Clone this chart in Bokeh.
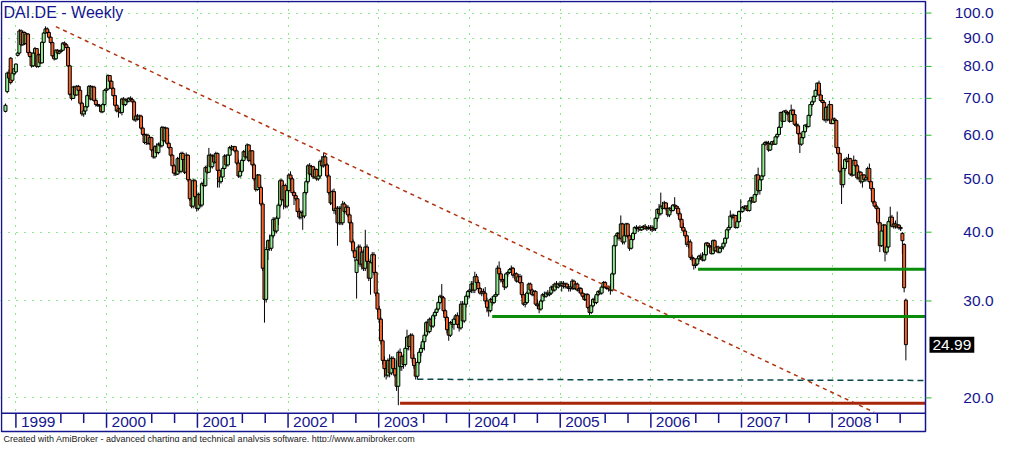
import math
import pandas as pd
from bokeh.plotting import figure
from bokeh.models import ColumnDataSource, Range1d, FixedTicker, Grid, Label
from bokeh.embed import file_html
from bokeh.resources import INLINE
from bokeh.core.properties import value

# ---------------- data (weekly bars, DAI.DE) ----------------
FIRST_WEEK = "1998-11-20"

opens = [
    # 1998
    66.3, 72.0, 77.8, 82.8, 75.5, 77.6,
    # 1999
    78.2, 83.8, 84.6, 92.8, 87.6, 92.2, 88.0, 91.6, 84.8, 83.4,
    80.2, 84.6, 86.2, 80.0, 84.0, 81.2, 88.5, 92.0, 93.6, 92.2,
    90.4, 88.4, 83.6, 82.6, 85.6, 84.6, 85.2, 85.6, 88.2, 87.6,
    86.6, 80.2, 71.2, 70.0, 73.4, 71.0, 73.6, 72.4, 68.6, 65.6,
    66.4, 67.6, 70.8, 73.6, 69.8, 73.4, 69.4, 68.2, 68.0, 67.8,
    66.2, 68.2, 72.4,
    # 2000
    72.8, 77.0, 75.2, 73.0, 70.8, 68.0, 66.4, 67.0, 66.0, 69.8,
    68.2, 69.6, 69.2, 70.0, 69.6, 69.0, 64.0, 65.0, 64.2, 65.0,
    61.8, 60.2, 58.2, 60.0, 58.0, 59.4, 56.4, 54.8, 57.2, 55.8,
    57.8, 57.4, 62.0, 58.6, 61.8, 58.0, 57.0, 55.2, 52.8, 51.2,
    51.0, 54.4, 51.6, 55.6, 54.2, 51.4, 55.2, 49.8, 46.0, 44.6,
    49.6, 46.4,
    # 2001
    44.2, 46.8, 44.8, 49.0, 48.6, 52.4, 51.4, 55.2, 52.6, 55.0,
    53.6, 55.6, 51.8, 49.4, 50.4, 52.2, 55.0, 53.0, 55.2, 57.0,
    56.6, 57.2, 56.2, 53.4, 50.6, 51.6, 54.0, 56.0, 54.8, 57.6,
    54.0, 56.2, 53.0, 50.0, 47.8, 50.8, 48.2, 45.0, 34.4, 30.2,
    37.2, 38.6, 37.4, 39.4, 42.2, 40.2, 42.4, 44.8, 49.6, 45.8,
    48.6, 44.6,
    # 2002
    47.6, 50.8, 50.0, 47.2, 46.6, 46.0, 43.6, 42.6, 43.4, 42.8,
    47.2, 49.4, 52.8, 51.0, 52.6, 50.4, 52.0, 50.0, 50.6, 53.8,
    52.8, 54.8, 53.0, 50.6, 47.2, 45.2, 47.4, 43.8, 44.2, 41.6,
    44.2, 41.6, 45.0, 43.6, 44.4, 43.0, 41.6, 38.4, 37.0, 33.8,
    35.6, 37.6, 35.0, 36.8, 34.4, 37.6, 35.4, 33.0, 35.2, 36.4,
    33.8, 31.0,
    # 2003
    29.0, 27.8, 25.4, 23.4, 22.6, 22.0, 23.4, 22.2, 23.6, 22.6,
    22.0, 21.0, 24.2, 22.8, 23.8, 23.0, 24.6, 25.8, 24.8, 26.0,
    23.6, 22.9, 21.9, 23.2, 24.2, 24.6, 25.3, 26.0, 27.4, 26.4,
    27.8, 27.0, 28.2, 28.6, 29.0, 29.8, 30.6, 30.4, 28.8, 28.0,
    26.6, 26.0, 27.4, 27.2, 27.8, 28.2, 27.2, 26.8, 29.6, 27.6,
    29.6, 30.6,
    # 2004
    31.2, 31.4, 32.2, 31.4, 33.2, 32.4, 31.6, 31.0, 31.2, 31.0,
    30.0, 29.2, 28.8, 30.2, 29.8, 30.6, 30.8, 34.4, 33.6, 32.8,
    32.6, 31.8, 33.6, 33.8, 34.2, 34.4, 33.4, 33.6, 32.6, 33.2,
    32.4, 30.8, 29.6, 29.8, 31.0, 32.2, 31.4, 30.8, 31.2, 29.6,
    29.4, 29.0, 30.0, 30.8, 30.6, 31.0, 30.8, 31.0, 31.8, 31.4,
    32.2, 31.8, 32.2,
    # 2005
    32.0, 32.3, 31.9, 32.2, 31.8, 31.6, 31.8, 32.6, 31.6, 32.2,
    31.4, 31.6, 31.0, 30.6, 30.2, 30.8, 29.2, 28.6, 29.4, 30.2,
    29.8, 30.8, 31.2, 31.0, 31.8, 32.4, 31.8, 31.6, 31.8, 31.4,
    33.6, 37.8, 39.4, 39.8, 39.0, 41.4, 38.4, 39.4, 41.4, 39.4,
    37.4, 38.8, 39.8, 40.8, 40.6, 40.8, 40.4, 40.8, 41.0, 40.6,
    40.8, 40.6,
    # 2006
    40.8, 40.4, 40.6, 42.4, 44.0, 43.2, 44.6, 44.2, 45.2, 44.2,
    43.0, 44.2, 43.8, 44.8, 44.6, 44.2, 43.2, 42.2, 40.8, 40.2,
    39.4, 38.0, 38.4, 36.0, 35.8, 34.8, 35.0, 35.8, 36.2, 36.0,
    35.6, 36.4, 38.2, 37.8, 37.6, 36.6, 38.6, 37.0, 37.6, 36.8,
    37.4, 37.6, 38.2, 39.0, 40.4, 40.8, 42.8, 42.6, 42.9, 40.8,
    41.8, 43.6,
    # 2007
    43.6, 44.4, 44.2, 44.6, 43.8, 45.6, 46.2, 45.4, 46.8, 50.8,
    47.6, 49.8, 50.6, 57.8, 58.2, 58.0, 56.4, 57.8, 58.4, 57.8,
    59.6, 60.2, 62.0, 66.0, 63.6, 66.4, 66.0, 65.6, 63.6, 66.6,
    65.4, 62.8, 62.4, 60.4, 57.8, 59.4, 60.9, 62.6, 62.2, 65.2,
    68.2, 69.0, 70.6, 72.4, 74.6, 71.0, 69.4, 68.8, 64.0, 67.4,
    64.0, 68.2,
    # 2008
    63.0, 64.2, 63.8, 57.0, 55.6, 51.6, 48.8, 52.2, 54.2, 53.8,
    54.4, 51.0, 50.8, 54.0, 52.8, 50.2, 51.4, 49.4, 50.8, 49.8,
    50.2, 52.2, 49.4, 48.0, 45.4, 44.6, 44.2, 41.6, 37.8, 40.2,
    41.2, 36.8, 37.6, 41.8, 42.6, 41.0, 41.4, 40.9, 41.2, 40.8,
    39.8, 38.0, 30.1,
]

highs = [
    # 1998
    68.5, 78.3, 79.0, 83.2, 78.4, 79.5,
    # 1999
    81.0, 85.0, 93.5, 93.4, 93.0, 92.6, 92.0, 92.0, 85.5, 84.0,
    85.0, 86.8, 86.4, 84.5, 84.6, 88.8, 92.4, 94.6, 94.2, 93.0,
    90.8, 88.8, 84.5, 86.0, 86.0, 85.6, 86.0, 88.6, 88.8, 88.2,
    87.0, 80.6, 71.6, 73.8, 73.8, 74.0, 74.0, 73.6, 69.0, 67.0,
    68.0, 71.2, 74.0, 74.0, 73.8, 73.8, 69.8, 68.6, 68.4, 68.0,
    68.6, 72.8, 73.2,
    # 2000
    77.4, 77.2, 75.6, 73.4, 71.0, 68.4, 67.4, 67.6, 70.2, 70.4,
    70.0, 70.2, 70.4, 70.6, 70.2, 69.4, 65.4, 65.6, 65.4, 65.4,
    62.2, 60.6, 60.4, 60.4, 59.8, 59.6, 57.0, 57.6, 58.0, 58.2,
    58.4, 62.4, 62.2, 62.2, 62.0, 58.4, 57.2, 55.4, 53.2, 51.6,
    54.8, 54.8, 56.0, 56.0, 54.6, 55.8, 55.4, 50.2, 48.6, 50.0,
    50.0, 47.6,
    # 2001
    47.2, 47.2, 49.4, 50.0, 52.8, 53.0, 56.9, 55.6, 55.4, 55.4,
    56.0, 55.8, 52.0, 50.8, 52.6, 55.4, 55.4, 55.4, 57.4, 57.6,
    57.4, 57.4, 56.6, 54.2, 52.0, 54.4, 56.4, 56.6, 58.0, 57.8,
    56.4, 56.4, 53.4, 50.4, 51.0, 51.0, 48.6, 45.4, 35.0, 37.6,
    38.8, 39.6, 39.8, 42.6, 42.6, 42.8, 45.2, 50.0, 50.0, 49.0,
    49.0, 48.0,
    # 2002
    51.2, 51.6, 50.4, 47.6, 47.2, 46.2, 44.2, 43.8, 43.8, 47.6,
    49.8, 53.2, 53.4, 53.0, 52.8, 52.4, 52.2, 51.0, 54.2, 55.0,
    55.8, 55.2, 53.4, 51.0, 47.6, 47.8, 48.0, 44.6, 44.6, 44.6,
    44.6, 45.6, 45.4, 44.8, 44.8, 43.4, 42.0, 38.8, 37.4, 35.8,
    38.0, 38.0, 37.2, 37.2, 40.4, 38.0, 35.8, 35.6, 36.8, 36.8,
    34.0, 31.2,
    # 2003
    29.4, 28.0, 25.6, 23.8, 23.0, 23.6, 24.0, 23.8, 23.8, 23.6,
    23.4, 24.4, 24.6, 24.0, 24.0, 24.8, 26.6, 26.0, 26.2, 26.2,
    24.0, 23.2, 23.4, 24.4, 25.0, 25.6, 26.3, 27.6, 27.8, 28.0,
    28.0, 28.4, 28.8, 29.2, 30.0, 30.8, 32.2, 30.6, 29.0, 28.2,
    27.4, 27.6, 27.8, 28.0, 28.4, 28.6, 27.6, 30.0, 30.0, 29.8,
    30.8, 31.4,
    # 2004
    31.6, 32.6, 32.6, 33.9, 33.6, 32.8, 31.8, 31.6, 31.6, 31.8,
    30.4, 29.6, 30.4, 30.6, 30.8, 31.2, 34.8, 35.4, 34.0, 33.4,
    33.0, 33.8, 34.0, 34.4, 34.8, 34.6, 33.8, 33.8, 33.6, 33.6,
    33.4, 31.2, 30.2, 31.2, 32.4, 32.4, 31.6, 31.4, 31.4, 30.2,
    29.8, 30.2, 31.0, 31.2, 31.2, 31.4, 31.2, 32.0, 32.2, 32.4,
    32.6, 32.4, 32.6,
    # 2005
    32.6, 32.6, 32.4, 32.4, 32.2, 32.0, 32.9, 32.8, 32.4, 32.4,
    31.8, 31.8, 31.4, 31.0, 31.0, 31.0, 29.4, 29.6, 30.4, 30.6,
    31.0, 31.4, 31.6, 32.0, 32.6, 32.6, 32.0, 32.0, 32.2, 33.8,
    38.0, 39.6, 40.0, 40.0, 42.9, 41.6, 39.6, 41.6, 41.6, 39.8,
    39.0, 40.0, 41.0, 41.2, 41.0, 41.2, 41.0, 41.2, 41.4, 41.0,
    41.2, 41.2,
    # 2006
    41.2, 41.0, 42.6, 44.2, 45.0, 47.2, 45.4, 45.6, 45.4, 44.4,
    44.4, 44.6, 45.0, 46.3, 44.8, 44.6, 43.6, 42.4, 41.6, 40.6,
    39.6, 38.8, 38.8, 36.4, 36.0, 35.2, 36.0, 36.4, 36.6, 36.8,
    36.6, 38.4, 38.4, 38.2, 37.8, 38.8, 38.8, 37.8, 37.8, 37.6,
    37.8, 38.4, 39.2, 40.6, 41.2, 43.8, 43.2, 43.2, 43.0, 42.2,
    43.8, 45.9,
    # 2007
    44.6, 44.8, 44.8, 44.8, 45.8, 46.4, 46.4, 47.0, 51.0, 52.4,
    50.4, 50.8, 58.0, 58.6, 58.6, 58.6, 58.2, 58.6, 58.8, 60.0,
    60.6, 62.4, 66.2, 66.4, 66.6, 66.8, 66.4, 66.0, 68.2, 67.0,
    66.8, 63.6, 63.0, 60.8, 59.6, 61.2, 62.8, 63.0, 65.4, 68.4,
    69.4, 70.8, 72.6, 74.8, 75.4, 72.6, 71.0, 69.4, 67.8, 67.8,
    69.3, 68.4,
    # 2008
    64.6, 64.6, 64.0, 57.2, 55.8, 53.0, 52.6, 54.6, 54.8, 55.5,
    54.6, 51.6, 55.1, 54.2, 53.2, 51.8, 51.6, 51.0, 51.0, 50.4,
    52.6, 53.3, 49.6, 48.2, 45.8, 45.0, 44.4, 41.8, 40.4, 41.4,
    41.4, 38.6, 42.2, 44.5, 43.0, 41.8, 42.0, 43.6, 41.4, 41.0,
    40.0, 38.2, 30.3,
]

lows = [
    # 1998
    66.0, 71.5, 75.5, 74.2, 75.0, 77.0,
    # 1999
    77.8, 83.4, 84.2, 87.0, 87.2, 87.5, 87.6, 84.0, 83.0, 79.6,
    79.8, 84.2, 79.5, 79.6, 80.8, 81.0, 88.0, 91.8, 91.8, 90.0,
    87.8, 83.0, 82.0, 82.2, 84.0, 84.2, 84.8, 85.4, 87.2, 86.0,
    79.8, 70.8, 69.4, 69.8, 70.6, 70.8, 71.8, 68.0, 65.0, 64.8,
    65.4, 67.2, 70.4, 69.4, 69.4, 69.0, 67.6, 67.6, 67.4, 65.8,
    65.8, 67.8, 71.6,
    # 2000
    72.4, 74.6, 72.6, 70.4, 67.6, 66.0, 64.6, 65.6, 65.2, 67.6,
    67.8, 68.6, 68.8, 69.2, 68.6, 63.6, 63.4, 63.8, 63.8, 61.4,
    59.8, 57.8, 57.6, 57.6, 57.6, 56.0, 54.4, 54.4, 55.4, 55.4,
    57.0, 57.0, 58.2, 58.2, 57.6, 56.6, 54.8, 51.2, 50.6, 50.6,
    50.8, 51.2, 51.2, 53.6, 51.0, 51.0, 49.4, 45.6, 44.2, 44.2,
    46.0, 43.6,
    # 2001
    43.8, 44.4, 44.4, 48.2, 48.4, 51.0, 51.2, 52.2, 52.2, 53.2,
    53.4, 48.2, 48.2, 49.0, 50.2, 52.0, 52.6, 52.6, 55.0, 56.2,
    56.2, 55.8, 53.0, 50.2, 50.2, 51.2, 53.6, 54.4, 54.4, 53.6,
    53.8, 52.6, 49.6, 47.4, 47.6, 47.8, 44.6, 34.0, 27.4, 29.8,
    35.6, 37.0, 37.0, 39.0, 39.8, 39.8, 41.2, 44.4, 45.4, 44.0,
    44.2, 44.2,
    # 2002
    47.2, 49.6, 46.8, 44.8, 45.6, 43.2, 42.2, 42.2, 40.4, 42.4,
    46.8, 49.0, 50.6, 50.6, 50.0, 50.0, 49.6, 49.6, 50.2, 52.4,
    52.4, 52.6, 50.2, 46.8, 44.8, 44.8, 43.2, 43.0, 37.8, 41.2,
    41.2, 41.2, 43.2, 43.2, 42.6, 40.4, 38.0, 36.6, 35.4, 30.3,
    35.0, 34.6, 34.2, 34.0, 34.0, 35.0, 32.6, 30.8, 34.8, 33.4,
    30.6, 28.6,
    # 2003
    27.4, 25.0, 23.0, 21.8, 21.6, 21.8, 21.8, 22.0, 22.2, 21.8,
    20.6, 19.4, 22.4, 22.4, 22.6, 22.8, 24.4, 24.4, 24.4, 23.2,
    22.6, 21.6, 21.6, 23.0, 23.8, 24.4, 24.4, 25.8, 26.2, 26.2,
    26.6, 26.8, 27.8, 28.2, 28.8, 29.6, 30.0, 28.4, 27.6, 26.2,
    25.4, 25.8, 26.8, 26.6, 27.4, 26.8, 26.4, 26.6, 27.2, 27.4,
    29.2, 30.2,
    # 2004
    30.4, 31.0, 31.0, 31.0, 32.0, 31.2, 30.8, 30.6, 30.8, 29.6,
    28.6, 28.1, 28.6, 29.4, 29.6, 30.2, 30.6, 33.2, 32.4, 32.2,
    31.4, 31.6, 33.2, 33.6, 33.8, 33.0, 32.8, 32.4, 32.4, 32.2,
    30.4, 29.4, 29.2, 29.6, 30.8, 31.0, 30.6, 30.6, 29.4, 29.0,
    28.5, 28.8, 29.8, 30.4, 30.4, 30.6, 30.6, 30.8, 31.2, 31.2,
    31.6, 31.6, 31.8,
    # 2005
    31.2, 31.6, 31.6, 31.6, 31.2, 31.2, 31.4, 31.4, 31.4, 31.2,
    31.0, 30.8, 30.4, 30.0, 30.0, 29.0, 28.3, 28.4, 29.2, 29.6,
    29.6, 30.6, 30.8, 30.8, 31.6, 31.6, 31.4, 31.2, 30.8, 31.2,
    33.4, 37.6, 38.8, 38.6, 38.8, 38.0, 38.0, 39.2, 39.0, 37.0,
    37.2, 38.6, 39.6, 40.2, 40.0, 40.2, 40.2, 40.4, 40.4, 40.2,
    40.4, 40.2,
    # 2006
    40.0, 40.2, 40.2, 41.8, 42.8, 42.9, 43.8, 44.0, 43.8, 42.6,
    42.6, 43.4, 43.6, 44.2, 43.6, 42.8, 41.8, 40.4, 39.8, 39.0,
    37.6, 37.4, 35.6, 35.4, 34.2, 34.4, 34.8, 35.4, 35.6, 35.4,
    35.4, 36.2, 37.6, 37.4, 36.4, 36.4, 36.8, 36.8, 36.6, 36.6,
    37.0, 37.2, 37.8, 38.8, 40.0, 40.6, 42.2, 42.4, 40.6, 40.6,
    41.6, 43.2,
    # 2007
    43.4, 43.8, 43.8, 43.6, 43.6, 45.0, 45.2, 45.2, 46.4, 47.2,
    46.8, 49.6, 50.4, 57.4, 57.6, 56.0, 56.2, 57.4, 57.6, 57.6,
    59.2, 60.0, 61.8, 62.6, 63.4, 65.4, 65.2, 63.2, 63.4, 65.0,
    62.4, 62.0, 60.0, 55.7, 57.4, 59.0, 60.6, 61.6, 62.0, 64.6,
    67.6, 68.6, 70.0, 71.8, 70.8, 69.0, 68.4, 63.6, 63.2, 63.6,
    63.8, 62.8,
    # 2008
    62.8, 63.4, 56.6, 55.2, 51.2, 45.0, 48.2, 51.6, 53.4, 53.6,
    50.6, 50.4, 50.6, 52.4, 49.8, 49.8, 49.0, 48.2, 49.4, 49.4,
    50.0, 49.0, 47.6, 45.0, 44.4, 43.8, 41.2, 36.8, 37.6, 37.0,
    35.4, 36.4, 37.4, 41.6, 40.8, 40.6, 40.6, 40.6, 40.4, 40.2,
    36.5, 31.1, 23.4,
]

closes = [
    # 1998
    68.0, 77.8, 76.2, 74.8, 77.8, 79.2,
    # 1999
    80.8, 84.6, 92.8, 87.6, 92.2, 88.0, 91.6, 84.8, 83.4, 80.2,
    84.6, 86.2, 80.0, 84.0, 81.2, 88.5, 92.0, 93.6, 92.2, 90.4,
    88.4, 83.6, 82.6, 85.6, 84.6, 85.2, 85.6, 88.2, 87.6, 86.6,
    80.2, 71.2, 70.0, 73.4, 71.0, 73.6, 72.4, 68.6, 65.6, 66.4,
    67.6, 70.8, 73.6, 69.8, 73.4, 69.4, 68.2, 68.0, 67.8, 66.2,
    68.2, 72.4, 72.8,
    # 2000
    77.0, 75.2, 73.0, 70.8, 68.0, 66.4, 67.0, 66.0, 69.8, 68.2,
    69.6, 69.2, 70.0, 69.6, 69.0, 64.0, 65.0, 64.2, 65.0, 61.8,
    60.2, 58.2, 60.0, 58.0, 59.4, 56.4, 54.8, 57.2, 55.8, 57.8,
    57.4, 62.0, 58.6, 61.8, 58.0, 57.0, 55.2, 52.8, 51.2, 51.0,
    54.4, 51.6, 55.6, 54.2, 51.4, 55.2, 49.8, 46.0, 44.6, 49.6,
    46.4, 44.2,
    # 2001
    46.8, 44.8, 49.0, 48.6, 52.4, 51.4, 55.2, 52.6, 55.0, 53.6,
    55.6, 51.8, 49.4, 50.4, 52.2, 55.0, 53.0, 55.2, 57.0, 56.6,
    57.2, 56.2, 53.4, 50.6, 51.6, 54.0, 56.0, 54.8, 57.6, 54.0,
    56.2, 53.0, 50.0, 47.8, 50.8, 48.2, 45.0, 34.4, 30.2, 37.2,
    38.6, 37.4, 39.4, 42.2, 40.2, 42.4, 44.8, 49.6, 45.8, 48.6,
    44.6, 47.6,
    # 2002
    50.8, 50.0, 47.2, 46.6, 46.0, 43.6, 42.6, 43.4, 42.8, 47.2,
    49.4, 52.8, 51.0, 52.6, 50.4, 52.0, 50.0, 50.6, 53.8, 52.8,
    54.8, 53.0, 50.6, 47.2, 45.2, 47.4, 43.8, 44.2, 41.6, 44.2,
    41.6, 45.0, 43.6, 44.4, 43.0, 41.6, 38.4, 37.0, 36.0, 35.6,
    37.6, 35.0, 36.8, 34.4, 37.6, 35.4, 33.0, 35.2, 36.4, 33.8,
    31.0, 29.0,
    # 2003
    27.8, 25.4, 23.4, 22.6, 22.0, 23.4, 22.2, 23.6, 22.6, 22.0,
    21.0, 24.2, 22.8, 23.8, 23.0, 24.6, 25.8, 24.8, 26.0, 23.6,
    22.9, 21.9, 23.2, 24.2, 24.6, 25.3, 26.0, 27.4, 26.4, 27.8,
    27.0, 28.2, 28.6, 29.0, 29.8, 30.6, 30.4, 28.8, 28.0, 26.6,
    26.0, 27.4, 27.2, 27.8, 28.2, 27.2, 26.8, 29.6, 27.6, 29.6,
    30.6, 31.2,
    # 2004
    31.4, 32.2, 31.4, 33.2, 32.4, 31.6, 31.0, 31.2, 31.0, 30.0,
    29.2, 28.8, 30.2, 29.8, 30.6, 30.8, 34.4, 33.6, 32.8, 32.6,
    31.8, 33.6, 33.8, 34.2, 34.4, 33.4, 33.6, 32.6, 33.2, 32.4,
    30.8, 29.6, 29.8, 31.0, 32.2, 31.4, 30.8, 31.2, 29.6, 29.4,
    29.0, 30.0, 30.8, 30.6, 31.0, 30.8, 31.0, 31.8, 31.4, 32.2,
    31.8, 32.2, 32.0,
    # 2005
    32.3, 31.9, 32.2, 31.8, 31.6, 31.8, 32.6, 31.6, 32.2, 31.4,
    31.6, 31.0, 30.6, 30.2, 30.8, 29.2, 28.6, 29.4, 30.2, 29.8,
    30.8, 31.2, 31.0, 31.8, 32.4, 31.8, 31.6, 31.8, 31.4, 33.6,
    37.8, 39.4, 39.8, 39.0, 41.4, 38.4, 39.4, 41.4, 39.4, 37.4,
    38.8, 39.8, 40.8, 40.6, 40.8, 40.4, 40.8, 41.0, 40.6, 40.8,
    40.6, 40.8,
    # 2006
    40.4, 40.6, 42.4, 44.0, 43.2, 44.6, 44.2, 45.2, 44.2, 43.0,
    44.2, 43.8, 44.8, 44.6, 44.2, 43.2, 42.2, 40.8, 40.2, 39.4,
    38.0, 38.4, 36.0, 35.8, 34.8, 35.0, 35.8, 36.2, 36.0, 35.6,
    36.4, 38.2, 37.8, 37.6, 36.6, 38.6, 37.0, 37.6, 36.8, 37.4,
    37.6, 38.2, 39.0, 40.4, 40.8, 42.8, 42.6, 42.9, 40.8, 41.8,
    43.6, 43.6,
    # 2007
    44.4, 44.2, 44.6, 43.8, 45.6, 46.2, 45.4, 46.8, 50.8, 47.6,
    49.8, 50.6, 57.8, 58.2, 58.0, 56.4, 57.8, 58.4, 57.8, 59.6,
    60.2, 62.0, 66.0, 63.6, 66.4, 66.0, 65.6, 63.6, 66.6, 65.4,
    62.8, 62.4, 60.4, 57.8, 59.4, 60.9, 62.6, 62.2, 65.2, 68.2,
    69.0, 70.6, 72.4, 74.6, 71.0, 69.4, 68.8, 64.0, 67.4, 64.0,
    68.2, 63.0,
    # 2008
    64.2, 63.8, 57.0, 55.6, 51.6, 48.8, 52.2, 54.2, 53.8, 54.4,
    51.0, 50.8, 54.0, 52.8, 50.2, 51.4, 49.4, 50.8, 49.8, 50.2,
    52.2, 49.4, 48.0, 45.4, 44.6, 44.2, 41.6, 37.8, 40.2, 41.2,
    36.8, 37.6, 41.8, 42.6, 41.0, 41.4, 40.9, 41.2, 40.8, 40.6,
    38.6, 31.7, 24.99,
]

# hand-drawn study lines (date, price)
trend_dates = ["1999-06-11", "2008-06-18"]
trend_prices = [94.5, 18.84]
support_high_start, support_high_price = "2006-07-10", 34.26
support_mid_start, support_mid_price = "2004-04-02", 28.1
dashed_low_start, dashed_low_prices = "2003-06-06", [21.62, 21.52]
bottom_line_start, bottom_line_price = "2003-03-28", 19.56

price_ticks = [20, 30, 40, 50, 60, 70, 80, 90, 100]
price_labels = ["20.0", "30.0", "40.0", "50.0", "60.0", "70.0", "80.0", "90.0", "100.0"]
year_labels = ["1999", "2000", "2001", "2002", "2003", "2004", "2005", "2006", "2007", "2008"]
last_price_text = "24.99"
chart_title = "DAI.DE - Weekly"
footer_text = ("Created with AmiBroker - advanced charting and technical analysis software. "
               "http://www.amibroker.com")

# ---------------- layout / styling ----------------
NAVY = "#15158f"
GRID_GREEN = "#1ed21e"
TICK_GREEN = "#22b822"
UP_FILL = "#90ee90"
DOWN_FILL = "#f7612a"
FONT = "Liberation Sans"

W, H = 996, 442
FRAME_L_PX, FRAME_R_PX = 1, 925      # chart box edges on the canvas
FRAME_T_PX, FRAME_B_PX = 1, 431
LABEL_RIGHT_PX = 993                 # right edge of the price labels

X_START = pd.Timestamp("1998-11-04")
X_END = pd.Timestamp("2009-01-11")
Y_BOTTOM, Y_TOP = 17.38, 104.96
BAND_TOP = 18.76        # top of the date band
MAJOR_TICK_END = 17.66
MINOR_TICK_END = 18.01
BAND_TEXT_Y = 18.06

xs_ms = X_START.value / 1e6
xe_ms = X_END.value / 1e6
ms_per_px = (xe_ms - xs_ms) / (FRAME_R_PX - FRAME_L_PX)
x_lo = xs_ms - FRAME_L_PX * ms_per_px
x_hi = xe_ms + (W - FRAME_R_PX) * ms_per_px
label_x = xe_ms + (LABEL_RIGHT_PX - FRAME_R_PX) * ms_per_px
box_x = xe_ms + 4 * ms_per_px
ln_per_px = math.log(Y_TOP / Y_BOTTOM) / (FRAME_B_PX - FRAME_T_PX)
y_hi = Y_TOP * math.exp(FRAME_T_PX * ln_per_px)
y_lo = Y_BOTTOM * math.exp(-(H - FRAME_B_PX) * ln_per_px)

n = min(len(opens), len(highs), len(lows), len(closes))
dates = pd.date_range(FIRST_WEEK, periods=n, freq="7D")
o, h, l, c = opens[:n], highs[:n], lows[:n], closes[:n]
src = ColumnDataSource(dict(
    x=dates, h=h, l=l,
    top=[max(a, b) for a, b in zip(o, c)],
    bot=[min(a, b) for a, b in zip(o, c)],
    fill=[UP_FILL if b >= a else DOWN_FILL for a, b in zip(o, c)],
))

p = figure(width=W, height=H, x_axis_type="datetime", y_axis_type="log",
           x_range=Range1d(x_lo, x_hi), y_range=Range1d(y_lo, y_hi),
           x_axis_location=None, y_axis_location=None,
           output_backend="svg", toolbar_location=None, min_border=0)
p.background_fill_color = "white"
p.border_fill_color = "white"
p.outline_line_color = None
for g in list(p.xgrid) + list(p.ygrid):
    g.visible = False

# dotted green grid
year_starts = pd.to_datetime([f"{y}-01-01" for y in year_labels])
p.add_layout(Grid(dimension=1, ticker=FixedTicker(ticks=price_ticks),
                  grid_line_color=GRID_GREEN, grid_line_dash="1 7", grid_line_width=1))
p.add_layout(Grid(dimension=0, ticker=FixedTicker(ticks=[t.value / 1e6 for t in year_starts]),
                  grid_line_color=GRID_GREEN, grid_line_dash="1 7", grid_line_width=1))

# white areas: date band + price scale area
p.quad(left=[x_lo], right=[x_hi], bottom=[y_lo], top=[BAND_TOP],
       fill_color="white", line_color=None)
p.quad(left=[xe_ms], right=[x_hi], bottom=[y_lo], top=[y_hi],
       fill_color="white", line_color=None)

# candles
p.segment(x0="x", y0="l", x1="x", y1="h", source=src, line_color="black", line_width=1)
p.vbar(x="x", width=12 * 24 * 3600 * 1000, top="top", bottom="bot", source=src,
       fill_color="fill", line_color="black", line_width=1)

# study lines
p.line(x=pd.to_datetime(trend_dates), y=trend_prices, line_color="#b2320e",
       line_width=1.5, line_dash="4 4")
p.line(x=[pd.Timestamp(dashed_low_start).value / 1e6, xe_ms], y=dashed_low_prices,
       line_color="#0b4848", line_width=1.5, line_dash="6 4")
p.line(x=[pd.Timestamp(bottom_line_start).value / 1e6, xe_ms], y=[bottom_line_price] * 2,
       line_color="#a8260a", line_width=3)
p.line(x=[pd.Timestamp(support_mid_start).value / 1e6, xe_ms], y=[support_mid_price] * 2,
       line_color="#0a8c0a", line_width=3)
p.line(x=[pd.Timestamp(support_high_start).value / 1e6, xe_ms], y=[support_high_price] * 2,
       line_color="#0a8c0a", line_width=3)

# chart box and date band
p.line(x=[xs_ms, xe_ms, xe_ms, xs_ms, xs_ms], y=[Y_TOP, Y_TOP, Y_BOTTOM, Y_BOTTOM, Y_TOP],
       line_color=NAVY, line_width=1.5)
p.line(x=[xs_ms, xe_ms], y=[BAND_TOP, BAND_TOP], line_color=NAVY, line_width=1.5)
minor_ticks = pd.to_datetime([f"{y}-{m}-01" for y in year_labels for m in ("07", "10")])
p.segment(x0=year_starts, y0=[BAND_TOP] * len(year_starts), x1=year_starts,
          y1=[MAJOR_TICK_END] * len(year_starts), line_color=NAVY, line_width=1.5)
p.segment(x0=minor_ticks, y0=[BAND_TOP] * len(minor_ticks), x1=minor_ticks,
          y1=[MINOR_TICK_END] * len(minor_ticks), line_color=NAVY, line_width=1.5)
p.text(x=year_starts, y=[BAND_TEXT_Y] * len(year_starts), text=year_labels,
       x_offset=5, text_baseline="middle", text_align="left",
       text_font=value(FONT), text_font_size="15.5px", text_color=NAVY)

# price scale on the right
p.ray(x=[xe_ms] * len(price_ticks), y=price_ticks, length=6, length_units="screen",
      angle=0, line_color=TICK_GREEN, line_width=1)
p.text(x=[label_x] * len(price_ticks), y=price_ticks, text=price_labels,
       text_align="right", text_baseline="middle",
       text_font=value(FONT), text_font_size="15.5px", text_color=NAVY)

# title, last price, footer
p.add_layout(Label(x=xs_ms, y=Y_TOP, x_offset=2, y_offset=-2, text=chart_title,
                   text_baseline="top", text_font=FONT, text_font_size="16px",
                   text_color=NAVY))
p.add_layout(Label(x=box_x, y=closes[n - 1], text=last_price_text,
                   text_baseline="middle", text_font=FONT, text_font_size="15.5px",
                   text_color="white", background_fill_color="black", padding=3))
p.add_layout(Label(x=xs_ms, y=Y_BOTTOM, x_offset=2, y_offset=-2, text=footer_text,
                   text_baseline="top", text_font=FONT, text_font_size="9px",
                   text_color="#222222"))

open("out.html", "w").write(file_html(p, INLINE))
